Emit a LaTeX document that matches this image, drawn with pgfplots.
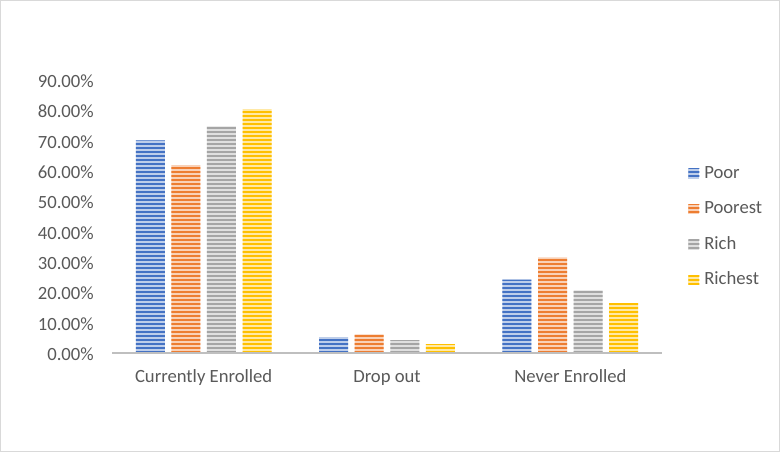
\documentclass[border=0pt]{standalone}
\usepackage{pgfplots}
\pgfplotsset{compat=1.18}
\usepackage{fontspec}
\setmainfont{Carlito}
\usetikzlibrary{patterns.meta}
\definecolor{poorC}{HTML}{4472C4}
\definecolor{poorestC}{HTML}{ED7D31}
\definecolor{richC}{HTML}{A5A5A5}
\definecolor{richestC}{HTML}{FFC000}
\definecolor{txt}{HTML}{595959}
\definecolor{axl}{HTML}{BFBFBF}
\definecolor{brd}{HTML}{D9D9D9}
\begin{document}
\begin{tikzpicture}
\useasboundingbox (0,0) rectangle (585pt,339pt);
\draw[brd, line width=0.75pt] (0.375pt,0.375pt) rectangle (584.625pt,338.625pt);
\begin{axis}[
  at={(84pt,74.25pt)}, anchor=south west,
  scale only axis,
  width=412.5pt, height=205pt,
  ybar=4.95pt, bar width=21.75pt,
  xmin=-0.5, xmax=2.5, ymin=0, ymax=90,
  xtick={0,1,2},
  xticklabels={Currently Enrolled, Drop out, Never Enrolled},
  ytick={0,10,...,90},
  yticklabels={0.00\%,10.00\%,20.00\%,30.00\%,40.00\%,50.00\%,60.00\%,70.00\%,80.00\%,90.00\%},
  axis lines*=left,
  x axis line style={draw=axl, line width=1.1pt},
  y axis line style={draw=none},
  major tick length=0pt,
  tick style={draw=none},
  axis on top,
  font=\fontsize{14}{17}\selectfont,
  yticklabel style={anchor=east, inner sep=0pt, xshift=-13.5pt, yshift=-1pt, text=txt},
  xticklabel style={anchor=base, inner sep=0pt, yshift=-22.5pt, text=txt},
  legend style={at={(1.04,0.461)}, anchor=west, draw=none, fill=none,
    row sep=13.5pt, text=txt,
    nodes={inner sep=0pt, anchor=west, text height=10pt, text depth=3pt}},
  legend cell align=left,
  legend image code/.code={\path[#1] (0pt,-3.75pt) rectangle (8.25pt,3.75pt);},
]
\addplot[fill=poorC!35!white, draw=none,
  postaction={pattern={Lines[angle=0,distance=3pt,line width=1.5pt]}, pattern color=poorC}]
  coordinates {(0,70.0) (1,5.2) (2,24.2)};
\addplot[fill=poorestC!35!white, draw=none,
  postaction={pattern={Lines[angle=0,distance=3pt,line width=1.5pt]}, pattern color=poorestC}]
  coordinates {(0,61.9) (1,6.1) (2,31.5)};
\addplot[fill=richC!35!white, draw=none,
  postaction={pattern={Lines[angle=0,distance=3pt,line width=1.5pt]}, pattern color=richC}]
  coordinates {(0,74.6) (1,4.2) (2,20.6)};
\addplot[fill=richestC!35!white, draw=none,
  postaction={pattern={Lines[angle=0,distance=3pt,line width=1.5pt]}, pattern color=richestC}]
  coordinates {(0,80.3) (1,2.9) (2,16.4)};
\legend{\hspace{3.75pt}Poor,\hspace{3.75pt}Poorest,\hspace{3.75pt}Rich,\hspace{3.75pt}Richest}
\end{axis}
\end{tikzpicture}
\end{document}
